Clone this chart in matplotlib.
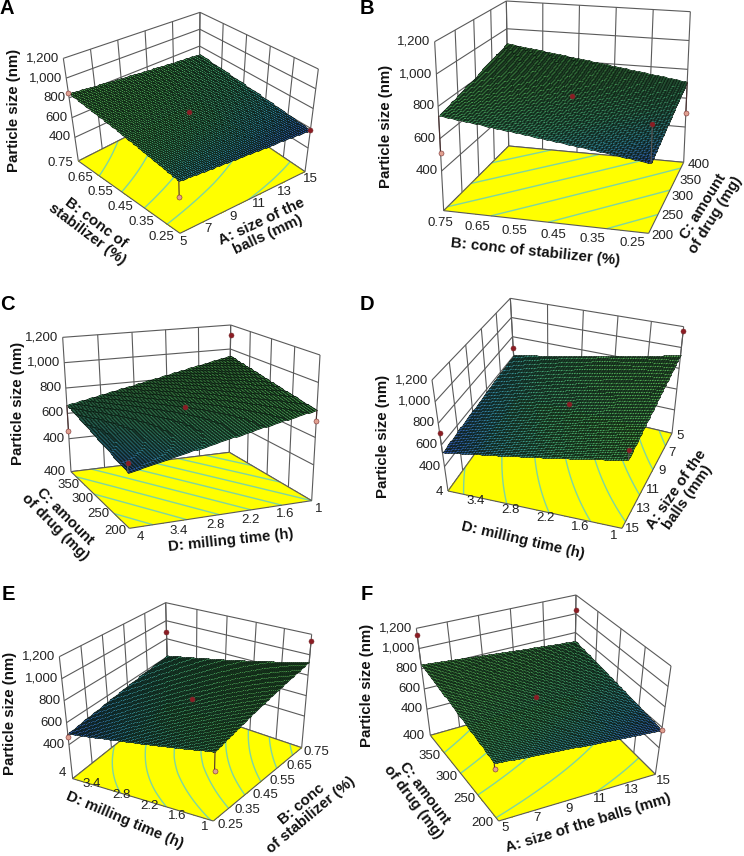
import numpy as np
import matplotlib
matplotlib.use("Agg")
import matplotlib.pyplot as plt
from matplotlib.colors import LinearSegmentedColormap

plt.rcParams['font.family'] = ['Liberation Sans', 'DejaVu Sans']

# ---------- data ----------
size_ticks = [400, 600, 800, 1000, 1200]
size_labels = ['400', '600', '800', '1,000', '1,200']

ball_ticks = [5, 7, 9, 11, 13, 15]
ball_labels = ['5', '7', '9', '11', '13', '15']
ball_rev = [15, 13, 11, 9, 7, 5]
ball_rev_labels = ['15', '13', '11', '9', '7', '5']
stab_ticks = [0.25, 0.35, 0.45, 0.55, 0.65, 0.75]
stab_labels = ['0.25', '0.35', '0.45', '0.55', '0.65', '0.75']
drug_ticks = [200, 250, 300, 350, 400]
drug_labels = ['200', '250', '300', '350', '400']
time_ticks = [1, 1.6, 2.2, 2.8, 3.4, 4]
time_labels = ['1', '1.6', '2.2', '2.8', '3.4', '4']
time_rev = [4, 3.4, 2.8, 2.2, 1.6, 1]
time_rev_labels = ['4', '3.4', '2.8', '2.2', '1.6', '1']

# response surfaces: rows follow the second factor, columns the first
surface_A = [[622, 602, 583], [735, 692, 645], [847, 776, 706]]
surface_B = [[565, 640, 714], [654, 729, 805], [742, 818, 895]]
surface_C = [[516, 658, 800], [591, 732, 872], [666, 805, 945]]
surface_D = [[738, 832, 927], [635, 702, 768], [532, 571, 610]]
surface_E = [[653, 791, 929], [576, 680, 772], [500, 558, 616]]
surface_F = [[643, 608, 574], [743, 693, 642], [844, 777, 710]]

# design points: first factor, second factor, size, above (r) / below (p)
points_A = [(5, .75, 850, 'p'), (10, .5, 705, 'r'), (15, .25, 585, 'r'), (5, .25, 478, 'p')]
points_B = [(300, .5, 735, 'r'), (200, .25, 794, 'r'), (400, .25, 495, 'p'), (200, .75, 513, 'p')]
points_C = [(4, 400, 461, 'p'), (4, 200, 580, 'r'), (2.5, 300, 735, 'r'), (1, 400, 1117, 'r'), (1, 200, 720, 'p')]
points_D = [(15, 4, 713, 'r'), (5, 4, 684, 'r'), (5, 1, 1160, 'r'), (15, 1, 817, 'r'), (10, 2.5, 705, 'r')]
points_E = [(.25, 4, 470, 'p'), (.75, 4, 875, 'r'), (.75, 1, 1131, 'r'), (.25, 1, 497, 'p'), (.5, 2.5, 695, 'r')]
points_F = [(5, 400, 1131, 'r'), (15, 400, 1037, 'r'), (15, 200, 574, 'p'), (5, 200, 591, 'p'), (10, 300, 695, 'r')]

YLABEL = 'Particle size (nm)'

# ---------- layout, in 3x crop units relative to a panel offset ----------
panels = [
    dict(letter='A', off=(0, 0), lpos=(7, 8), zmin=161,
         floor=dict(F=(540, 700), R=(915, 515), L=(235, 483), B=(597, 300)),
         top=dict(F=(532, 347), R=(955, 207), L=(190, 175), B=(600, 37)),
         u=(ball_ticks, ball_labels), v=(stab_ticks, stab_labels), s=surface_A, pts=points_A,
         uoff=((8, 25), (17, 22)), voff=((-55, 10), (-55, 7)),
         labels=[(YLABEL, 42, 330, 90), ('B: conc of\nstabilizer (%)', 275, 685, -37),
                 ('A: size of the\nballs (mm)', 795, 685, 25)]),
    dict(letter='B', off=(372, 0), lpos=(367, 8), zmin=155,
         floor=dict(F=(830, 700), R=(935, 487), L=(215, 632), B=(410, 438)),
         top=dict(F=(848, 165), R=(955, 35), L=(188, 125), B=(403, 3)),
         u=(drug_ticks, drug_labels), v=(stab_ticks, stab_labels), s=surface_B, pts=points_B,
         uoff=((42, 8), (45, 8)), voff=((-50, 30), (-10, 36)),
         labels=[(YLABEL, 42, 380, 90), ('B: conc of stabilizer (%)', 490, 757, -6),
                 ('C: amount\nof drug (mg)', 1012, 632, 58)]),
    dict(letter='C', off=(0, 290), lpos=(7, 305), zmin=140,
         floor=dict(F=(388, 715), R=(935, 632), L=(213, 545), B=(688, 487)),
         top=dict(F=(375, 245), R=(960, 195), L=(188, 142), B=(692, 105)),
         u=(time_rev, time_rev_labels), v=(drug_ticks, drug_labels), s=surface_C, pts=points_C,
         uoff=((32, 25), (20, 26)), voff=((-43, 7), (-48, 0)),
         labels=[(YLABEL, 55, 340, 90), ('C: amount\nof drug (mg)', 180, 695, -45),
                 ('D: milling time (h)', 693, 750, 6)]),
    dict(letter='D', off=(372, 290), lpos=(367, 305), zmin=175,
         floor=dict(F=(750, 715), R=(900, 430), L=(228, 603), B=(432, 320)),
         top=dict(F=(785, 342), R=(935, 110), L=(180, 270), B=(415, 25)),
         u=(ball_rev, ball_rev_labels), v=(time_ticks, time_labels), s=surface_D, pts=points_D,
         uoff=((32, 2), (25, 8)), voff=((-25, 22), (-25, 2)),
         labels=[(YLABEL, 33, 440, 90), ('D: milling time (h)', 452, 750, -13),
                 ('A: size of the\nballs (mm)', 930, 610, 55)]),
    dict(letter='E', off=(0, 566), lpos=(8, 595), zmin=91,
         floor=dict(F=(640, 765), R=(905, 545), L=(218, 638), B=(505, 410)),
         top=dict(F=(650, 355), R=(935, 205), L=(178, 272), B=(497, 110)),
         u=(stab_ticks, stab_labels), v=(time_ticks, time_labels), s=surface_E, pts=points_E,
         uoff=((50, 12), (45, 13)), voff=((-25, 17), (-31, -16)),
         labels=[(YLABEL, 30, 442, 90), ('D: milling time (h)', 375, 762, -23),
                 ('B: conc\nof stabilizer (%)', 918, 730, 40)]),
    dict(letter='F', off=(372, 566), lpos=(367, 595), zmin=141,
         floor=dict(F=(380, 765), R=(850, 625), L=(175, 508), B=(608, 385)),
         top=dict(F=(352, 400), R=(897, 300), L=(133, 187), B=(612, 87)),
         u=(ball_ticks, ball_labels), v=(drug_ticks, drug_labels), s=surface_F, pts=points_F,
         uoff=((18, 20), (23, 20)), voff=((-48, 5), (-50, 2)),
         labels=[(YLABEL, -15, 357, 90), ('C: amount\nof drug (mg)', 140, 695, -53),
                 ('A: size of the balls (mm)', 648, 772, 17)]),
]

cmap = LinearSegmentedColormap.from_list(
    'rs', [(0, '#2c50b0'), (0.14, '#2f86a0'), (0.32, '#3c9c70'), (0.6, '#48a452'), (1, '#4ea648')])
AXC = '#5a5a5a'
MESH = 68


def homography(c):
    """Unit square (s along F->R, t along F->L) to the four given corners."""
    src = [(0, 0), (1, 0), (0, 1), (1, 1)]
    dst = [c['F'], c['R'], c['L'], c['B']]
    A, b = [], []
    for (s, t), (x, y) in zip(src, dst):
        A.append([s, t, 1, 0, 0, 0, -s * x, -t * x])
        b.append(x)
        A.append([0, 0, 0, s, t, 1, -s * y, -t * y])
        b.append(y)
    h = np.linalg.solve(np.array(A, float), np.array(b, float))
    return np.append(h, 1).reshape(3, 3)


def apply_h(H, s, t):
    s, t = np.asarray(s, float), np.asarray(t, float)
    w = H[2, 0] * s + H[2, 1] * t + H[2, 2]
    return (H[0, 0] * s + H[0, 1] * t + H[0, 2]) / w, (H[1, 0] * s + H[1, 1] * t + H[1, 2]) / w


fig = plt.figure(figsize=(7.44, 8.56), dpi=100)
ax = fig.add_axes([0, 0, 1, 1])
ax.set_xlim(0, 744)
ax.set_ylim(856, 0)
ax.axis('off')

for p in panels:
    ox, oy = p['off']
    Hf, Ht = homography(p['floor']), homography(p['top'])
    zmin = p['zmin']
    uvals, ulabs = p['u']
    vvals, vlabs = p['v']
    ufrac = lambda val: (val - uvals[0]) / (uvals[-1] - uvals[0])
    vfrac = lambda val: (val - vvals[0]) / (vvals[-1] - vvals[0])

    def proj(s, t, z):
        w = (np.asarray(z, float) - zmin) / (1200 - zmin)
        fx, fy = apply_h(Hf, s, t)
        tx, ty = apply_h(Ht, s, t)
        return ox + (fx + (tx - fx) * w) / 3, oy + (fy + (ty - fy) * w) / 3

    def seg(s0, t0, z0, s1, t1, z1, **kw):
        x0, y0 = proj(s0, t0, z0)
        x1, y1 = proj(s1, t1, z1)
        ax.plot([x0, x1], [y0, y1], color=kw.get('color', AXC), lw=kw.get('lw', 0.8),
                zorder=kw.get('zorder', 1), solid_capstyle='butt')

    # back walls: left wall t=1, right wall s=1
    for z in size_ticks + [zmin]:
        seg(0, 1, z, 1, 1, z)
        seg(1, 1, z, 1, 0, z)
    for val in uvals:
        seg(ufrac(val), 1, zmin, ufrac(val), 1, 1200)
    for val in vvals:
        seg(1, vfrac(val), zmin, 1, vfrac(val), 1200)

    # dense surface grid
    g = np.linspace(0, 1, MESH + 1)
    S = np.array(p['s'], float)
    rows = np.array([np.interp(g, [0, .5, 1], r) for r in S])
    Z = np.array([np.interp(g, [0, .5, 1], rows[:, j]) for j in range(len(g))]).T
    ss, tt = np.meshgrid(g, g)

    # floor
    fx, fy = proj(ss, tt, zmin)
    ax.pcolormesh(fx, fy, Z[:-1, :-1], cmap=LinearSegmentedColormap.from_list('y', ['#ffff00', '#ffff00']),
                  shading='flat', zorder=2, rasterized=True)
    lo = np.ceil(S.min() / 50) * 50
    ax.contour(fx, fy, Z, levels=np.arange(lo, S.max(), 50), colors='#7ed6a0', linewidths=1.0, zorder=3)
    for a, b in (((0, 0), (1, 0)), ((0, 0), (0, 1)), ((1, 0), (1, 1)), ((0, 1), (1, 1))):
        seg(a[0], a[1], zmin, b[0], b[1], zmin, zorder=3)

    # surface with black mesh
    sx, sy = proj(ss, tt, Z)
    cz = 0.25 * (Z[:-1, :-1] + Z[1:, :-1] + Z[:-1, 1:] + Z[1:, 1:])
    ax.pcolormesh(sx, sy, cz, cmap=cmap, shading='flat', zorder=4,
                  vmin=S.min(), vmax=S.max(),
                  edgecolors='#06140c', linewidth=0.42, antialiased=True)

    # design points and stems
    for a, b, z, kind in p['pts']:
        s, t = ufrac(a), vfrac(b)
        zs = float(np.interp(t, [0, .5, 1], [np.interp(s, [0, .5, 1], r) for r in S]))
        col = '#8c1c24' if kind == 'r' else '#e0a090'
        stem = '#4a3030' if z < zs else AXC
        seg(s, t, zs, s, t, z, color=stem, lw=0.8, zorder=5)
        x, y = proj(s, t, z)
        ax.plot([x], [y], 'o', ms=3.6, mfc=col, mec='#7a3030', mew=0.4, zorder=6)

    # tick labels
    for val, lab in zip(uvals, ulabs):
        f = ufrac(val)
        x, y = proj(f, 0, zmin)
        dx = (p['uoff'][0][0] + (p['uoff'][1][0] - p['uoff'][0][0]) * f) / 3
        dy = (p['uoff'][0][1] + (p['uoff'][1][1] - p['uoff'][0][1]) * f) / 3
        ax.text(x + dx, y + dy, lab, fontsize=9.5, ha='center', va='center', color='#222222', zorder=7)
    for val, lab in zip(vvals, vlabs):
        f = vfrac(val)
        x, y = proj(0, f, zmin)
        dx = (p['voff'][0][0] + (p['voff'][1][0] - p['voff'][0][0]) * f) / 3
        dy = (p['voff'][0][1] + (p['voff'][1][1] - p['voff'][0][1]) * f) / 3
        ax.text(x + dx, y + dy, lab, fontsize=9.5, ha='center', va='center', color='#222222', zorder=7)
    for val, lab in zip(size_ticks, size_labels):
        x, y = proj(0, 1, val)
        ax.text(x - 4, y, lab, fontsize=9.5, ha='right', va='center', color='#222222', zorder=7)

    # axis titles and panel letter
    for txt, tx, ty, rot in p['labels']:
        ax.text(ox + tx / 3, oy + ty / 3, txt, fontsize=10.8, fontweight='bold', ha='center', va='center',
                rotation=rot, rotation_mode='anchor', linespacing=1.05, color='#111111', zorder=7)
    ax.text(p['lpos'][0], p['lpos'][1], p['letter'], fontsize=14.5, fontweight='bold', ha='center', va='center',
            color='black', zorder=7)

fig.savefig('out.png', dpi=100)
